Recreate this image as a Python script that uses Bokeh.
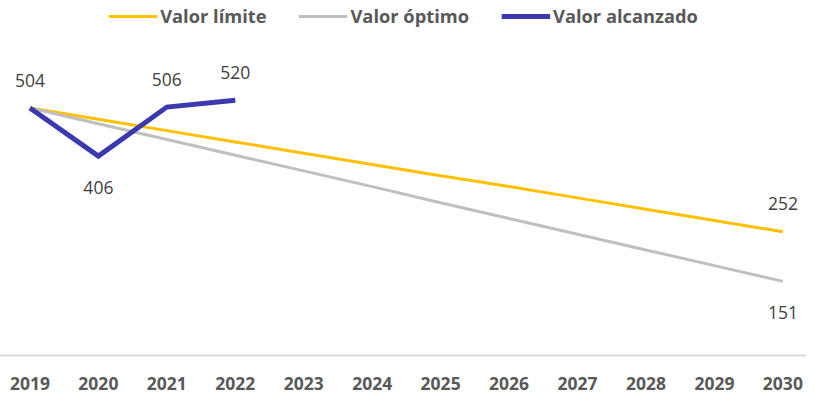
from bokeh.plotting import figure
from bokeh.models import Range1d, FixedTicker, Legend, LegendItem, ColumnDataSource
from bokeh.core.properties import value
from bokeh.embed import file_html
from bokeh.resources import INLINE

years = [2019, 2020, 2021, 2022, 2023, 2024, 2025, 2026, 2027, 2028, 2029, 2030]
valor_limite = [504, 481, 458, 435, 412, 389, 366, 344, 321, 298, 275, 252]
valor_optimo = [504, 472, 440, 408, 376, 344, 311, 279, 247, 215, 183, 151]
alc_years = [2019, 2020, 2021, 2022]
valor_alcanzado = [504, 406, 506, 520]

# labelled points
lab_up_x = [2019, 2021, 2022, 2030]
lab_up_y = [504, 506, 520, 252]
lab_dn_x = [2020, 2030]
lab_dn_y = [406, 151]

p = figure(width=806, height=396, output_backend="svg", toolbar_location=None,
           x_range=Range1d(2018.570, 2030.345), y_range=Range1d(0, 723),
           min_border_left=0, min_border_right=0, min_border_top=0, min_border_bottom=41)
p.outline_line_color = None
p.xgrid.visible = False
p.ygrid.visible = False
p.yaxis.visible = False
p.background_fill_color = "white"
p.border_fill_color = "white"

ax = p.xaxis[0]
ax.ticker = FixedTicker(ticks=years)
ax.major_tick_line_color = None
ax.minor_tick_line_color = None
ax.axis_line_color = "#D9D9D9"
ax.axis_line_width = 2
ax.major_label_text_font = "Open Sans"
ax.major_label_text_font_style = "bold"
ax.major_label_text_font_size = "17.5px"
ax.major_label_text_color = "#595959"
ax.major_label_standoff = 15

r1 = p.line(years, valor_limite, line_color="#FFC000", line_width=3)
r2 = p.line(years, valor_optimo, line_color="#BFBFBF", line_width=3)
r3 = p.line(alc_years, valor_alcanzado, line_color="#3A3AAE", line_width=5, line_join="miter")

src_up = ColumnDataSource(dict(x=lab_up_x, y=lab_up_y, t=[str(v) for v in lab_up_y]))
src_dn = ColumnDataSource(dict(x=lab_dn_x, y=lab_dn_y, t=[str(v) for v in lab_dn_y]))
p.text(x="x", y="y", text="t", source=src_up, text_font=value("Open Sans"),
       text_font_size="17.5px", text_color="#404040", text_align="center",
       text_baseline="middle", y_offset=-28)
p.text(x="x", y="y", text="t", source=src_dn, text_font=value("Open Sans"),
       text_font_size="17.5px", text_color="#404040", text_align="center",
       text_baseline="middle", y_offset=31)

legend = Legend(items=[LegendItem(label="Valor límite", renderers=[r1]),
                       LegendItem(label="Valor óptimo", renderers=[r2]),
                       LegendItem(label="Valor alcanzado", renderers=[r3])],
                orientation="horizontal", location="top_center",
                glyph_width=49, label_standoff=3, spacing=32, padding=0, margin=3,
                label_text_font="Open Sans", label_text_font_style="bold",
                label_text_font_size="18.3px", label_text_color="#595959",
                border_line_color=None, background_fill_alpha=0)
p.add_layout(legend, "center")

open("out.html", "w").write(file_html(p, INLINE))
